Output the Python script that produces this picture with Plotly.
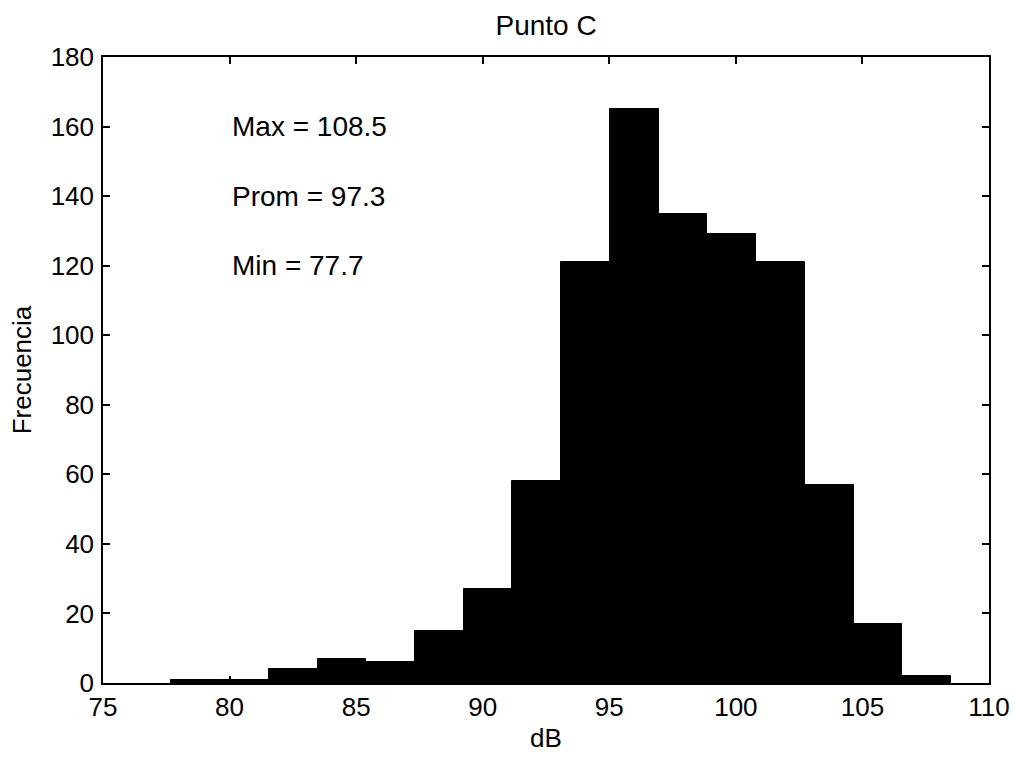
import plotly.graph_objects as go

# Data
data_min = 77.7
data_max = 108.5
data_mean = 97.3
counts = [1, 1, 4, 7, 6, 15, 27, 58, 121, 165, 135, 129, 121, 57, 17, 2]
x_ticks = [75, 80, 85, 90, 95, 100, 105, 110]
y_ticks = [0, 20, 40, 60, 80, 100, 120, 140, 160, 180]
title_text = "Punto C"
x_title = "dB"
y_title = "Frecuencia"
stat_labels = ["Max = 108.5", "Prom = 97.3", "Min = 77.7"]
stat_y = [160, 140, 120]

nbins = len(counts)
bw = (data_max - data_min) / nbins
centers = [data_min + (i + 0.5) * bw for i in range(nbins)]

FONT = "Liberation Sans, Arial, Helvetica, sans-serif"

fig = go.Figure()
fig.add_trace(go.Bar(
    x=centers, y=counts, width=[bw] * nbins,
    marker=dict(color="black", line=dict(color="black", width=1)),
    showlegend=False,
))

for txt, yv in zip(stat_labels, stat_y):
    fig.add_annotation(x=80.0, y=yv, text=txt, showarrow=False,
                       xanchor="left", yanchor="middle",
                       font=dict(family=FONT, size=28, color="black"))

axis_common = dict(
    showline=True, linecolor="black", linewidth=1.5, mirror="ticks",
    ticks="inside", ticklen=7, tickwidth=1.5, tickcolor="black",
    showgrid=False, zeroline=False, automargin=False,
    tickfont=dict(family=FONT, size=26, color="black"),
)

fig.update_layout(
    width=1015, height=761,
    margin=dict(l=103, r=26, t=57, b=78),
    paper_bgcolor="white", plot_bgcolor="white",
    bargap=0,
    title=dict(text=title_text, x=0.538, xanchor="center", y=0.967, yanchor="middle",
               font=dict(family=FONT, size=28, color="black")),
    xaxis=dict(range=[75, 110], tickvals=x_ticks, ticklabelstandoff=0,
               title=dict(text=x_title, standoff=8,
                          font=dict(family=FONT, size=26, color="black")),
               **axis_common),
    yaxis=dict(range=[0, 180], tickvals=y_ticks, ticklabelstandoff=2,
               title=dict(text=y_title, standoff=12,
                          font=dict(family=FONT, size=26, color="black")),
               **axis_common),
)

fig.write_html("out.html", config={"displayModeBar": False},
               post_script="document.body.style.margin='0';")
